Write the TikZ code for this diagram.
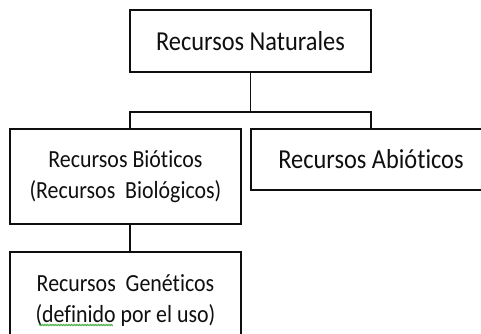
\documentclass[tikz,border=0pt]{standalone}
\usepackage{fontspec}
\setmainfont[FakeStretch=0.89,Ligatures=NoCommon]{Carlito}
\usetikzlibrary{decorations.pathmorphing}
\definecolor{inkc}{RGB}{15,15,15}
\definecolor{squig}{RGB}{60,170,60}
\begin{document}
\begin{tikzpicture}[x=1pt,y=-1pt,
  box/.style={draw=inkc,line width=1.2pt,rectangle,inner sep=0pt,align=center,text=inkc},
  big/.style={font=\fontsize{27.4}{30}\selectfont},
  small/.style={font=\fontsize{24.6}{31}\selectfont},
  conn/.style={draw=inkc,line width=1.2pt}]
\useasboundingbox (0,0) rectangle (481,333);
\clip (0,0) rectangle (481,333);
\node[box,big,minimum width=241pt,minimum height=62pt] (top) at (250.5,41) {Recursos Naturales};
\node[box,small,minimum width=231pt,minimum height=95pt] (bio) at (125.5,176.5) {Recursos Bióticos\\(Recursos\ \ Biológicos)};
\node[box,big,minimum width=240pt,minimum height=61pt] (abio) at (371,159.5) {Recursos Abióticos};
\node[box,small,minimum width=231pt,minimum height=98pt] (gen) at (125.5,301) {Recursos\ \ Genéticos\\(definido por el uso)};
\coordinate (j) at (250.5,112);
\coordinate (bl) at (130,112);
\coordinate (br) at (371,112);
\draw[conn] (top.south) -- (j);
\draw[conn] (bl |- bio.north) -- (bl) -- (br) -- (br |- abio.north);
\draw[conn] (bl |- bio.south) -- (bl |- gen.north);
\draw[squig,line width=0.6pt,decorate,decoration={zigzag,segment length=1.6pt,amplitude=0.7pt}] (39,325) -- (113,325);
\end{tikzpicture}
\end{document}
